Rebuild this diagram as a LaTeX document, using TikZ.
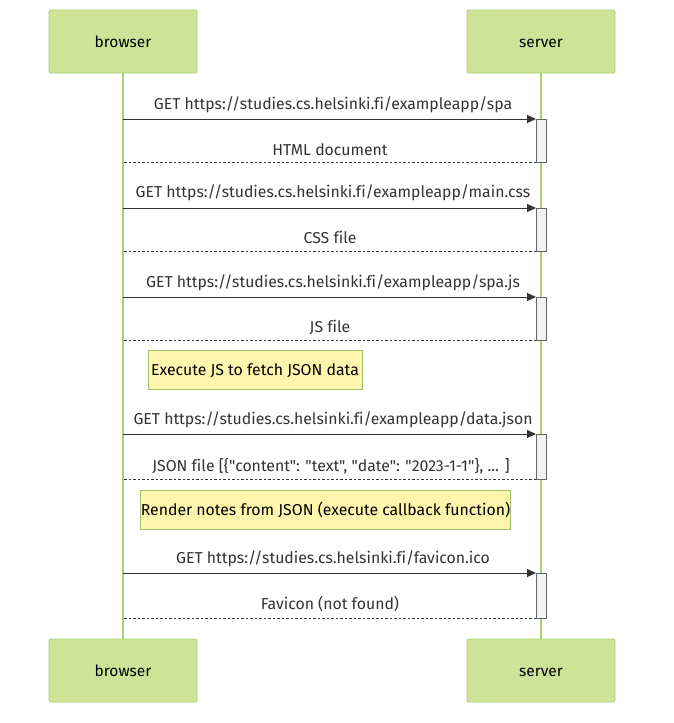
\documentclass[tikz,border=0pt]{standalone}
\usepackage{fontspec}
\setmainfont{Fira Sans}[Ligatures={CommonOff,TeXOff}]
\usetikzlibrary{arrows.meta}
\definecolor{actfill}{HTML}{CDE498}
\definecolor{actline}{HTML}{A9D06E}
\definecolor{notefill}{HTML}{FFF5AD}
\definecolor{noteline}{HTML}{9CC16A}
\definecolor{txt}{HTML}{333333}
\begin{document}
\begin{tikzpicture}[x=1pt,y=-1pt,
  actor/.style={draw=actline,fill=actfill,rounded corners=2pt,minimum width=148pt,minimum height=63pt,line width=0.8pt,font=\fontsize{15.5}{17}\selectfont,text=black,text height=12.5pt,text depth=0.5pt},
  life/.style={draw=actline,line width=1.5pt},
  msg/.style={draw=txt,line width=1pt,-{Triangle[length=9pt,width=8pt]}},
  ret/.style={draw=txt,line width=1pt,dash pattern=on 2.5pt off 2pt},
  lbl/.style={font=\fontsize{15.8}{17}\selectfont,text=txt,inner sep=0pt,text height=12.5pt,text depth=0.5pt},
  act/.style={draw=black!60,fill=black!5,line width=0.8pt},
  notebox/.style={draw=noteline,fill=notefill,line width=0.8pt,font=\fontsize{15.8}{17}\selectfont,text=black,inner sep=0pt,text height=12.5pt,text depth=0.5pt}]
\useasboundingbox (0,0) rectangle (673,723);
\fill[white] (0,0) rectangle (673,723);
% lifelines
\coordinate (bt) at (123,73); \coordinate (bb) at (123,639);
\coordinate (st) at (541,73); \coordinate (sb) at (541,639);
\draw[life] (bt) -- (bb);
\draw[life] (st) -- (sb);
% actors
\node[actor] (b1) at (123,41.5) {browser};
\node[actor] (s1) at (541,41.5) {server};
\node[actor] (b2) at (123,670.5) {browser};
\node[actor] (s2) at (541,670.5) {server};
% activations
\foreach \a/\b in {119/162,208/251,297/340,434/479,573/618}{
  \draw[act] (536,\a) rectangle (546,\b);
}
% messages
\foreach \n/\y/\ry in {1/119/162,2/208/251,3/297/340,4/434/479,5/573/618}{
  \coordinate (mb\n) at (123,\y); \coordinate (ms\n) at (536,\y);
  \coordinate (rb\n) at (123,\ry); \coordinate (rs\n) at (536,\ry);
}
\foreach \n in {1,...,5}{
  \draw[msg] (mb\n) -- (ms\n);
  \draw[ret] (rs\n) -- (rb\n);
}
\node[lbl] (l1) at (333,103) {GET https://studies.cs.helsinki.fi/exampleapp/spa};
\node[lbl] (r1) at (330,149) {HTML document};
\node[lbl] (l2) at (333,191) {GET https://studies.cs.helsinki.fi/exampleapp/main.css};
\node[lbl] (r2) at (330,237) {CSS file};
\node[lbl] (l3) at (333,281) {GET https://studies.cs.helsinki.fi/exampleapp/spa.js};
\node[lbl] (r3) at (330,326) {JS file};
\node[lbl] (l4) at (333,418) {GET https://studies.cs.helsinki.fi/exampleapp/data.json};
\node[lbl] (r4) at (331,465) {JSON file [\{"content": "text", "date": "2023-1-1"\}, ... ]};
\node[lbl] (l5) at (333,557) {GET https://studies.cs.helsinki.fi/favicon.ico};
\node[lbl] (r5) at (330,603) {Favicon (not found)};
% notes
\node[notebox,minimum width=214pt,minimum height=39pt] (n1) at (255,369.5) {Execute JS to fetch JSON data};
\node[notebox,minimum width=355pt,minimum height=39pt] (n2) at (325.5,509.5) {Render notes from JSON (execute callback function)};
\end{tikzpicture}
\end{document}
